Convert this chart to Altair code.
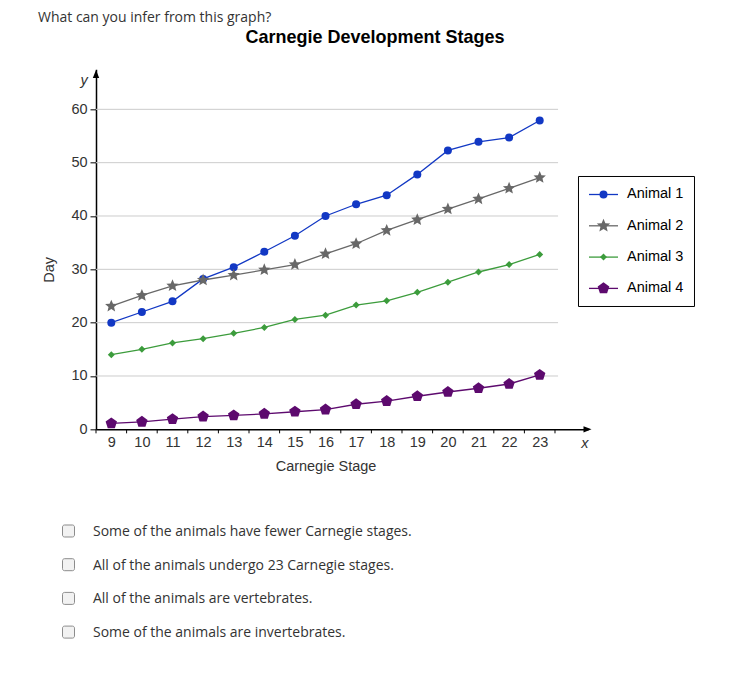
import math
import altair as alt
import pandas as pd

# ---------------- data ----------------
QUESTION = "What can you infer from this graph?"
TITLE = "Carnegie Development Stages"
OPTIONS = [
    "Some of the animals have fewer Carnegie stages.",
    "All of the animals undergo 23 Carnegie stages.",
    "All of the animals are vertebrates.",
    "Some of the animals are invertebrates.",
]
X_TITLE = "Carnegie Stage"
Y_TITLE = "Day"
SERIES = ["Animal 1", "Animal 2", "Animal 3", "Animal 4"]
STAGES = [9, 10, 11, 12, 13, 14, 15, 16, 17, 18, 19, 20, 21, 22, 23]
ANIMAL_1 = [20.0, 22.0, 24.0, 28.2, 30.4, 33.3, 36.3, 40.0, 42.2, 43.9, 47.8, 52.3, 53.9, 54.7, 57.9]
ANIMAL_2 = [23.1, 25.1, 26.9, 28.0, 28.9, 29.9, 30.9, 32.9, 34.8, 37.3, 39.3, 41.3, 43.2, 45.2, 47.2]
ANIMAL_3 = [14.0, 15.0, 16.2, 17.0, 18.0, 19.1, 20.6, 21.4, 23.3, 24.1, 25.7, 27.6, 29.5, 30.9, 32.8]
ANIMAL_4 = [1.1, 1.4, 1.9, 2.4, 2.6, 2.9, 3.3, 3.7, 4.7, 5.3, 6.2, 7.0, 7.7, 8.5, 10.2]
Y_TICKS = [0, 10, 20, 30, 40, 50, 60]
GRID_VALUES = [10, 20, 30, 40, 50, 60]
X_TICK_MARKS = [8.5, 9.5, 10.5, 11.5, 12.5, 13.5, 14.5, 15.5, 16.5, 17.5,
                18.5, 19.5, 20.5, 21.5, 22.5, 23.5]

# ---------------- style / geometry ----------------
COLORS = ["#1238c4", "#686868", "#3c9c3c", "#5d0a6e"]
FONT = "Liberation Sans"
TEXT_FONT = "Open Sans"
OX, OY = 96.0, 69.33          # page position of plot origin
W, H = 492, 360
X_DOMAIN = [8.5, 8.5 + W / 30.6]
Y_DOMAIN = [0, 67.5]


def px(x):
    return x - OX


def py(y):
    return y - OY


def poly(n, r_out, r_in=None, start=-90.0):
    pts = []
    if r_in is None:
        for k in range(n):
            a = math.radians(start + 360.0 * k / n)
            pts.append((r_out * math.cos(a), r_out * math.sin(a)))
    else:
        for k in range(2 * n):
            r = r_out if k % 2 == 0 else r_in
            a = math.radians(start + 180.0 * k / n)
            pts.append((r * math.cos(a), r * math.sin(a)))
    return "M" + "L".join(f"{x:.3f},{y:.3f}" for x, y in pts) + "Z"


PLOT_SHAPES = ["circle", poly(5, 1, 0.45), "diamond", poly(5, 1)]
PLOT_SIZES = [64, 169, 49, 144]
LEGEND_SIZES = [64, 200, 49, 150]

rows = []
for name, vals in zip(SERIES, [ANIMAL_1, ANIMAL_2, ANIMAL_3, ANIMAL_4]):
    for s, d in zip(STAGES, vals):
        rows.append({"stage": s, "day": d, "animal": name})
df = pd.DataFrame(rows)

xs = alt.Scale(domain=X_DOMAIN, nice=False, zero=False)
ys = alt.Scale(domain=Y_DOMAIN, nice=False, zero=False)
cs = alt.Scale(domain=SERIES, range=COLORS)

x_axis = alt.Axis(
    values=STAGES, format="d", grid=False, ticks=False, tickSize=0,
    domainColor="black", domainWidth=1.5,
    labelFont=FONT, labelFontSize=14.5, labelColor="#333333", labelPadding=6,
    title=X_TITLE, titleFont=FONT, titleFontSize=14.5, titleFontWeight="normal",
    titleColor="#333333", titlePadding=11, titleX=px(325.5),
)
y_axis = alt.Axis(
    values=Y_TICKS, format="d", grid=False,
    domainColor="black", domainWidth=1.5, tickColor="black", tickSize=6,
    labelFont=FONT, labelFontSize=14.5, labelColor="#333333", labelPadding=3,
    title=Y_TITLE, titleFont=FONT, titleFontSize=14.5, titleFontWeight="normal",
    titleColor="#333333", titlePadding=14, titleY=200,
)

one = alt.Data(values=[{"k": 1}])

grid = alt.Chart(pd.DataFrame({"g": GRID_VALUES})).transform_calculate(
    x0="8.5", x1="23.6"
).mark_rule(color="#cccccc", strokeWidth=1).encode(
    x=alt.X("x0:Q", scale=xs, axis=x_axis),
    x2="x1:Q",
    y=alt.Y("g:Q", scale=ys, axis=y_axis),
)

xticks = alt.Chart(pd.DataFrame({"t": X_TICK_MARKS})).mark_rule(
    color="black", strokeWidth=1
).encode(
    x=alt.X("t:Q", scale=xs, axis=x_axis),
    y=alt.value(H),
    y2=alt.value(H + 4),
)

lines = alt.Chart(df).mark_line(strokeWidth=1.3).encode(
    x=alt.X("stage:Q", scale=xs, axis=x_axis),
    y=alt.Y("day:Q", scale=ys, axis=y_axis),
    color=alt.Color("animal:N", scale=cs, legend=None),
)

point_layers = []
for name, shp, sz, col in zip(SERIES, PLOT_SHAPES, PLOT_SIZES, COLORS):
    point_layers.append(
        alt.Chart(df).transform_filter(alt.datum.animal == name).mark_point(
            shape=shp, size=sz, filled=True, color=col, opacity=1
        ).encode(
            x=alt.X("stage:Q", scale=xs, axis=x_axis),
            y=alt.Y("day:Q", scale=ys, axis=y_axis),
        )
    )

arrow_up = alt.Chart(one).mark_point(
    shape="M0,-1L0.8,1L-0.8,1Z", size=64, filled=True, color="black", opacity=1
).encode(x=alt.value(0), y=alt.value(py(74)))
arrow_right = alt.Chart(one).mark_point(
    shape="M1,0L-1,0.8L-1,-0.8Z", size=64, filled=True, color="black", opacity=1
).encode(x=alt.value(px(587.5)), y=alt.value(H))


def text_layer(txt, x, y, **kw):
    return alt.Chart(one).mark_text(text=txt, **kw).encode(
        x=alt.value(x), y=alt.value(y)
    )


texts = [
    text_layer(QUESTION, px(38), py(11), align="left", baseline="top",
               font=TEXT_FONT, fontSize=14, color="#333333"),
    text_layer(TITLE, px(375), py(43), align="center", baseline="alphabetic",
               font=FONT, fontSize=18, fontWeight="bold", color="black"),
    text_layer("y", px(84), py(85), align="center", baseline="alphabetic",
               font=FONT, fontSize=14.5, fontStyle="italic", color="#333333"),
    text_layer("x", px(585), py(448), align="center", baseline="alphabetic",
               font=FONT, fontSize=14.5, fontStyle="italic", color="#333333"),
]

# ---------------- legend (drawn by hand) ----------------
legend_layers = [
    alt.Chart(one).mark_rect(fill="white", stroke="black", strokeWidth=1).encode(
        x=alt.value(px(578.5)), x2=alt.value(px(694.5)),
        y=alt.value(py(176.5)), y2=alt.value(py(306.5)),
    )
]
for i, (name, shp, sz, col) in enumerate(zip(SERIES, PLOT_SHAPES, LEGEND_SIZES, COLORS)):
    ry = py(194.5 + 31.3 * i)
    legend_layers.append(
        alt.Chart(one).mark_rule(color=col, strokeWidth=1.3).encode(
            x=alt.value(px(589)), x2=alt.value(px(618)), y=alt.value(ry)
        )
    )
    legend_layers.append(
        alt.Chart(one).mark_point(shape=shp, size=sz, filled=True, color=col,
                                  opacity=1).encode(
            x=alt.value(px(603.5)), y=alt.value(ry)
        )
    )
    legend_layers.append(
        text_layer(name, px(627), ry, align="left", baseline="middle", font=FONT,
                   fontSize=14.5, color="black")
    )

# ---------------- answer options ----------------
opt_layers = []
for i, opt in enumerate(OPTIONS):
    cy = 531 + 33.7 * i
    opt_layers.append(
        alt.Chart(one).mark_rect(
            fill="#f2f2f2", stroke="#8c8c8c", strokeWidth=1, cornerRadius=2
        ).encode(
            x=alt.value(px(62.5)), x2=alt.value(px(74.5)),
            y=alt.value(py(cy - 6)), y2=alt.value(py(cy + 6)),
        )
    )
    opt_layers.append(
        text_layer(opt, px(93), py(cy + 5), align="left", baseline="alphabetic",
                   font=TEXT_FONT, fontSize=14, color="#333333")
    )

chart = alt.layer(
    grid, xticks, lines, *point_layers, arrow_up, arrow_right, *texts,
    *legend_layers, *opt_layers
).properties(
    width=W,
    height=H,
    padding={"left": OX - 8, "top": OY - 8, "right": 724 - (OX - 8) - W, "bottom": 225},
    autosize=alt.AutoSizeParams(type="none"),
).configure_view(strokeWidth=0)

chart.save("out.html", embed_options={"renderer": "svg", "actions": False})
